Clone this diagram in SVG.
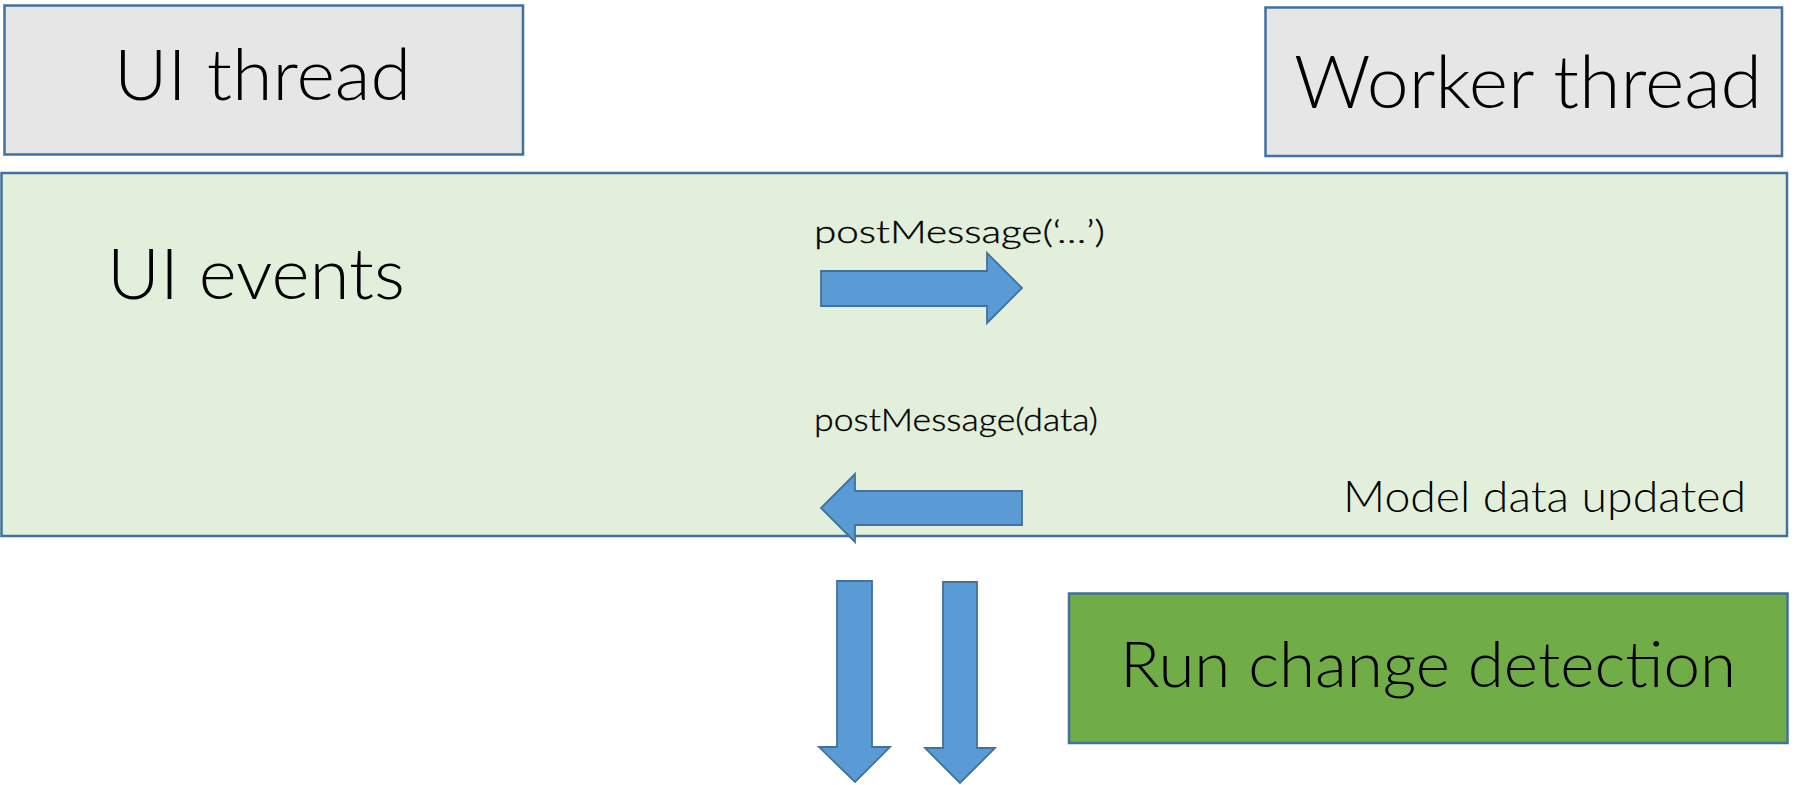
<svg xmlns="http://www.w3.org/2000/svg" width="1818" height="785" viewBox="0 0 1818 785">
<style>
.box{stroke:#41719c;stroke-width:2.5}
.gray{fill:#e7e6e6}
.lite{fill:#e2efda}
.dark{fill:#70ad47}
.t{font-family:Lato,"Open Sans","Liberation Sans",sans-serif;font-weight:300;fill:#000}
.s{stroke:#000;stroke-width:0.35}
.arr{fill:#5b9bd5;stroke:#41719c;stroke-width:1.8;stroke-linejoin:miter}
</style>
<rect width="1818" height="785" fill="#ffffff"/>
<g id="main-area">
<rect class="box lite" x="1.5" y="173" width="1785.5" height="363"/>
<text class="t" x="107" y="299" font-size="71" textLength="298" lengthAdjust="spacingAndGlyphs">UI events</text>
<text class="t" x="1343" y="512" font-size="43" textLength="403" lengthAdjust="spacingAndGlyphs">Model data updated</text>
</g>
<g id="ui-thread">
<rect class="box gray" x="4.5" y="5.5" width="518.5" height="149"/>
<text class="t" x="262.5" y="100" font-size="71" text-anchor="middle" textLength="297" lengthAdjust="spacingAndGlyphs">UI thread</text>
</g>
<g id="worker-thread">
<rect class="box gray" x="1265.5" y="7.5" width="516.5" height="148.5"/>
<text class="t" x="1528" y="108" font-size="72" text-anchor="middle" textLength="468" lengthAdjust="spacingAndGlyphs">Worker thread</text>
</g>
<g id="run-change-detection">
<rect class="box dark" x="1069" y="593.5" width="718.5" height="149.5"/>
<text class="t" x="1428" y="687" font-size="64" text-anchor="middle" textLength="616" lengthAdjust="spacingAndGlyphs">Run change detection</text>
</g>
<g id="connectors">
<path class="arr" d="M821,271 H987 V253 L1022,288 L987,323 V306 H821 Z"/>
<text class="t s" x="814" y="243" font-size="31" textLength="291" lengthAdjust="spacingAndGlyphs">postMessage(‘…’)</text>
<path class="arr" d="M1022,491 H855 V474 L821,508 L855,542 V525 H1022 Z"/>
<text class="t s" x="814" y="431" font-size="31" textLength="284" lengthAdjust="spacingAndGlyphs">postMessage(data)</text>
<path class="arr" d="M837,581 H872 V747 H890 L855,782 L819,747 H837 Z"/>
<path class="arr" d="M943,582 H977 V748 H995 L960,783 L925,748 H943 Z"/>
</g>
</svg>
